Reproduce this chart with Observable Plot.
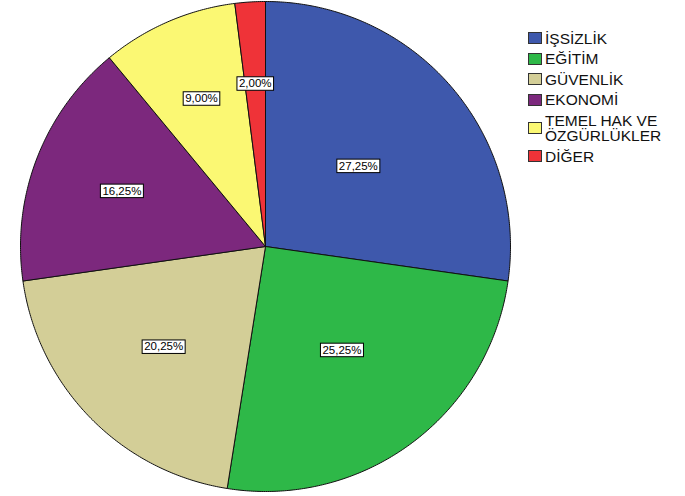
<!DOCTYPE html>
<html>
<head>
<meta charset="utf-8">
<script src="https://cdn.jsdelivr.net/npm/d3@7"></script>
<script src="https://cdn.jsdelivr.net/npm/@observablehq/plot@0.6"></script>
<style>
  html, body { margin: 0; padding: 0; background: #fff; }
  #wrap { position: relative; width: 685px; height: 496px; overflow: hidden; font-family: Arial, "Liberation Sans", sans-serif; }
  #legend { position: absolute; left: 528px; top: 28px; }
  .item { display: flex; align-items: center; padding: 2.5px 0; }
  .sw { width: 12px; height: 10px; border: 1px solid #333; margin-right: 3px; flex: none; }
  .lab { font-size: 15.5px; line-height: 15.5px; color: #111; white-space: pre; }
</style>
</head>
<body>
<div id="wrap"><div id="chart"></div><div id="legend"></div></div>
<script>
const categories = ["İŞSİZLİK", "EĞİTİM", "GÜVENLİK", "EKONOMİ", "TEMEL HAK VE ÖZGÜRLÜKLER", "DİĞER"];
const legendLabels = ["İŞSİZLİK", "EĞİTİM", "GÜVENLİK", "EKONOMİ", "TEMEL HAK VE\nÖZGÜRLÜKLER", "DİĞER"];
const values = [27.25, 25.25, 20.25, 16.25, 9.00, 2.00];
const colors = ["#3e58ac", "#2eb848", "#d3ce97", "#7c287d", "#fbf873", "#ef3338"];

const total = d3.sum(values);
const slices = [];
const labels = [];
let acc = 0;
values.forEach((v, i) => {
  const a0 = acc / total * 2 * Math.PI;
  acc += v;
  const a1 = acc / total * 2 * Math.PI;
  const n = Math.max(2, Math.ceil((a1 - a0) / (Math.PI / 360)));
  slices.push({cat: categories[i], x: 0, y: 0});
  for (let k = 0; k <= n; k++) {
    const a = a0 + (a1 - a0) * k / n;
    slices.push({cat: categories[i], x: Math.sin(a), y: Math.cos(a)});
  }
  slices.push({cat: categories[i], x: 0, y: 0});
  const th = a1 - a0, mid = (a0 + a1) / 2;
  const p = v / total;
  const rr = (4 * Math.sin(th / 2) / (3 * th)) * (1 - 1.2 * Math.max(0, p - 0.15));
  labels.push({cat: categories[i], x: rr * Math.sin(mid), y: rr * Math.cos(mid),
    text: v.toFixed(2).replace(".", ",") + "%"});
});

const cx = 265, cy = 246, R = 245;
const chart = Plot.plot({
  width: 685, height: 496,
  margin: 0,
  style: {fontFamily: "Arial, 'Liberation Sans', sans-serif", background: "white"},
  x: {domain: [-1, 1], range: [cx - R, cx + R], axis: null},
  y: {domain: [-1, 1], range: [cy + R, cy - R], axis: null},
  color: {domain: categories, range: colors},
  marks: [
    Plot.line(slices, {x: "x", y: "y", z: "cat", fill: "cat", stroke: "#111", strokeWidth: 1, curve: "linear"}),
    Plot.text(labels, {x: "x", y: "y", text: "text", fontSize: 11.5, fill: "#000", className: "pie-label"})
  ]
});
document.getElementById("chart").appendChild(chart);

document.querySelectorAll(".pie-label text").forEach(t => {
  const b = t.getBBox();
  const r = document.createElementNS("http://www.w3.org/2000/svg", "rect");
  const tr = t.getAttribute("transform");
  if (tr) r.setAttribute("transform", tr);
  r.setAttribute("x", b.x - 2);
  r.setAttribute("y", b.y - 0.5);
  r.setAttribute("width", b.width + 4);
  r.setAttribute("height", b.height + 1.5);
  r.setAttribute("fill", "white");
  r.setAttribute("stroke", "#000");
  r.setAttribute("stroke-width", 1);
  t.parentNode.insertBefore(r, t);
});

const legend = document.getElementById("legend");
legendLabels.forEach((l, i) => {
  const item = document.createElement("div");
  item.className = "item";
  const sw = document.createElement("div");
  sw.className = "sw";
  sw.style.background = colors[i];
  const lab = document.createElement("div");
  lab.className = "lab";
  lab.textContent = l;
  item.appendChild(sw); item.appendChild(lab);
  legend.appendChild(item);
});
</script>
</body>
</html>
